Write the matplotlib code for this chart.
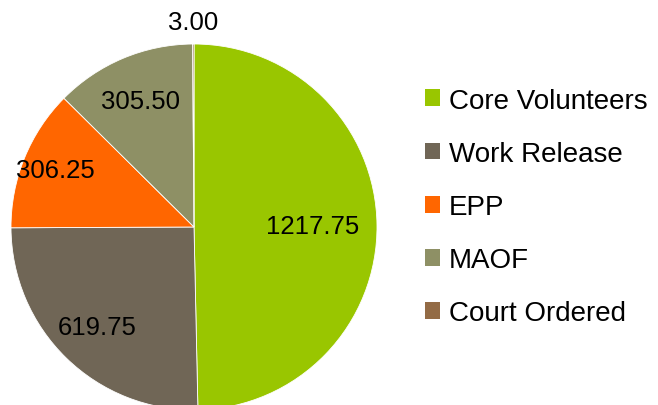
import numpy as np
import matplotlib
matplotlib.use("Agg")
from matplotlib import pyplot as plt
from matplotlib.patches import Patch

# data
labels = ["Core Volunteers", "Work Release", "EPP", "MAOF", "Court Ordered"]
values = [1217.75, 619.75, 306.25, 305.50, 3.00]
value_text = ["1217.75", "619.75", "306.25", "305.50", "3.00"]
colors = ["#99C600", "#706656", "#FF6600", "#8E9065", "#936B45"]

# label distance per slice (fraction of radius)
label_r = [0.65, 0.76, 0.82, 0.75, 1.12]

plt.rcParams['font.family'] = ['Liberation Sans', 'DejaVu Sans']

W, H = 658, 406
fig = plt.figure(figsize=(W / 100, H / 100), dpi=100)

# pie axes: centre (194, 228) px, radius 183 px
cx, cy, r = 194, 228, 183
ax = fig.add_axes([(cx - r) / W, (H - cy - r) / H, 2 * r / W, 2 * r / H])
wedges, _ = ax.pie(values, colors=colors, startangle=90, counterclock=False,
                   radius=1.0, wedgeprops=dict(linewidth=0.6, edgecolor="white"))
ax.set_xlim(-1, 1)
ax.set_ylim(-1, 1)
ax.set_aspect("auto")
ax.axis("off")

for w, txt, d in zip(wedges, value_text, label_r):
    ang = np.deg2rad((w.theta1 + w.theta2) / 2)
    ax.text(d * np.cos(ang), d * np.sin(ang), txt, ha="center", va="center",
            fontsize=18.5, color="black", clip_on=False)

handles = [Patch(facecolor=c, edgecolor="none") for c in colors]
fig.legend(handles, labels, loc="center left", bbox_to_anchor=(425 / W, 1 - 208 / H),
           frameon=False, fontsize=20, handlelength=0.55, handleheight=0.55,
           handletextpad=0.3, labelspacing=0.98, borderpad=0, borderaxespad=0)

fig.savefig("out.png", dpi=100)
